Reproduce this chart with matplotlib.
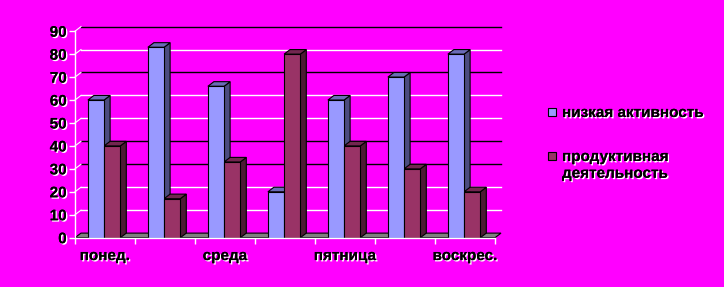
import matplotlib
matplotlib.use('Agg')
import matplotlib.pyplot as plt
import matplotlib.patheffects as pe
from matplotlib.patches import Polygon, Rectangle

plt.rcParams['font.family'] = ['Liberation Sans', 'DejaVu Sans']

# данные
days = ['понед.', 'вторн.', 'среда', 'четв.', 'пятница', 'суббота', 'воскрес.']
tick_labels = ['понед.', '', 'среда', '', 'пятница', '', 'воскрес.']
low_activity = [60, 83, 66, 20, 60, 70, 80]
productive = [40, 17, 33, 80, 40, 30, 20]
series_names = ['низкая активность', 'продуктивная\nдеятельность']
y_ticks = [0, 10, 20, 30, 40, 50, 60, 70, 80, 90]
grid_colors = ['black', 'white', 'white', 'black', 'black', 'white', 'white', 'black', 'white', 'black']

BG = '#FF00FF'
faces = [('#9999FF', '#4C4C80', '#6B6BB8'), ('#993366', '#4D1A33', '#732650')]

fig = plt.figure(figsize=(7.24, 2.87), dpi=100, facecolor=BG)
ax = fig.add_axes([75 / 724, 49.3 / 287, 420 / 724, 206.5 / 287])
ax.set_facecolor(BG)
ax.patch.set_alpha(0)
ax.set_xlim(-0.5, len(days) - 0.5)
ax.set_ylim(0, 90)
for s in ax.spines.values():
    s.set_visible(False)

dx, dy = 0.1, 2.0
shadow = [pe.withSimplePatchShadow(offset=(1, -1), shadow_rgbFace='white', alpha=1.0), pe.Normal()]
FS = 11

# задняя стенка - линии сетки
for v, c in zip(y_ticks, grid_colors):
    if v == 0:
        continue
    ax.plot([-0.5 + dx, len(days) - 0.5 + dx], [v + dy, v + dy], color=c, lw=1.0, clip_on=False, zorder=1)
    ax.plot([-0.5, -0.5 + dx], [v, v + dy], color='white', lw=0.8, clip_on=False, zorder=1)

# пол
ax.add_patch(Polygon([(-0.5, 0), (len(days) - 0.5, 0), (len(days) - 0.5 + dx, dy), (-0.5 + dx, dy)],
                     closed=True, facecolor='#808080', edgecolor='black', lw=0.8, clip_on=False, zorder=2))

bw = 0.27
for i in range(len(days)):
    for k, vals in enumerate([low_activity, productive]):
        v = vals[i]
        x0 = i - 0.285 + k * bw
        x1 = x0 + bw
        front, side, top = faces[k]
        ax.add_patch(Polygon([(x1, 0), (x1 + dx, dy), (x1 + dx, v + dy), (x1, v)], closed=True,
                             facecolor=side, edgecolor='black', lw=0.8, clip_on=False, zorder=3))
        ax.add_patch(Polygon([(x0, v), (x0 + dx, v + dy), (x1 + dx, v + dy), (x1, v)], closed=True,
                             facecolor=top, edgecolor='black', lw=0.8, clip_on=False, zorder=3))
        ax.add_patch(Rectangle((x0, 0), bw, v, facecolor=front, edgecolor='black', lw=0.8,
                               clip_on=False, zorder=4))

# оси
ax.plot([-0.5, -0.5], [0, 90], color='white', lw=1.0, clip_on=False, zorder=5)
ax.plot([-0.5, len(days) - 0.5], [0, 0], color='white', lw=1.0, clip_on=False, zorder=5)
ax.set_yticks(y_ticks)
ax.set_yticklabels([str(v) for v in y_ticks])
ax.set_xticks([i - 0.5 for i in range(len(days) + 1)], minor=False)
ax.set_xticklabels([])
ax.tick_params(axis='both', colors='white', length=4, width=1.0, direction='out')
ax.tick_params(axis='y', pad=2, labelcolor='black', labelsize=FS)
for lbl in ax.get_yticklabels():
    lbl.set_fontweight('bold')
    lbl.set_path_effects(shadow)

for i, lab in enumerate(tick_labels):
    if lab:
        ax.text(i, -8, lab, ha='center', va='center', fontsize=FS, fontweight='bold',
                color='black', path_effects=shadow, clip_on=False)

# легенда
for k, name in enumerate(series_names):
    ytop = [108, 152][k]
    fig.patches.append(Rectangle((548 / 724, 1 - (ytop + 8) / 287), 8 / 724, 8 / 287,
                                 transform=fig.transFigure, facecolor=faces[k][0],
                                 edgecolor='black', lw=0.8))
    fig.text(562 / 724, 1 - (ytop - 2) / 287, name, ha='left', va='top', fontsize=FS,
             fontweight='bold', color='black', path_effects=shadow, linespacing=1.25)

fig.savefig('out.png', dpi=100, facecolor=BG)
